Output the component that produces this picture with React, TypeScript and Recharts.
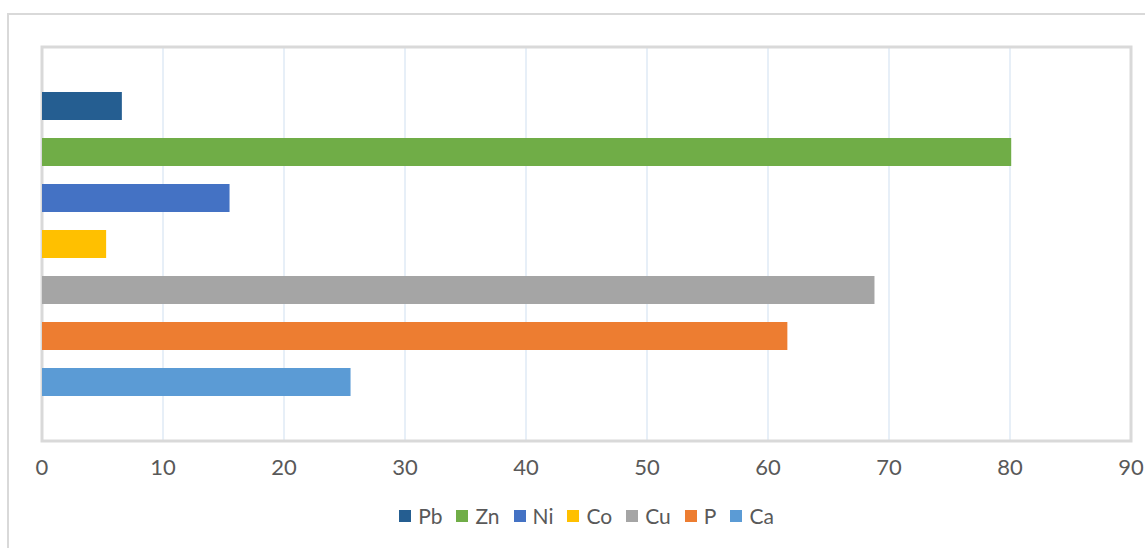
import { Bar, BarChart, CartesianGrid, Legend, ReferenceArea, XAxis, YAxis } from "recharts";

// series in top-to-bottom order (Excel draws the first series at the bottom)
const elements = ["Pb", "Zn", "Ni", "Co", "Cu", "P", "Ca"];
const values = [6.6, 80.1, 15.5, 5.3, 68.8, 61.6, 25.5];
const colors = ["#255E91", "#70AD47", "#4472C4", "#FFC000", "#A5A5A5", "#ED7D31", "#5B9BD5"];
const xTicks = [0, 10, 20, 30, 40, 50, 60, 70, 80, 90];

const row: Record<string, string | number> = { name: "sample" };
elements.forEach((el, i) => {
  row[el] = values[i];
});
const data = [row];

const font = "Lato, 'Open Sans', sans-serif";
const textColor = "#595959";

function LegendBox() {
  return (
    <div
      style={{
        display: "flex",
        justifyContent: "center",
        gap: "14px",
        paddingTop: "10px",
        fontFamily: font,
        fontSize: 21,
        color: textColor
      }}
    >
      {elements.map((el, i) => (
        <div key={el} style={{ display: "flex", alignItems: "center", gap: "7px" }}>
          <span style={{ display: "inline-block", width: 12, height: 12, background: colors[i] }} />
          <span>{el}</span>
        </div>
      ))}
    </div>
  );
}

export default function App() {
  return (
    <div style={{ position: "absolute", left: 0, top: 0, width: 1145, height: 548, overflow: "hidden", background: "#fff" }}>
      <div style={{ position: "absolute", left: 7, top: 13, width: 1160, height: 560, border: "2px solid #d9d9d9" }} />
      <div style={{ position: "absolute", left: 0, top: 0 }}>
        <BarChart
          width={1145}
          height={548}
          data={data}
          layout="vertical"
          margin={{ top: 47, right: 14, bottom: 8, left: 42 }}
          barSize={28}
          barGap={18}
        >
          <CartesianGrid horizontal={false} stroke="#cfdff0" strokeWidth={1} />
          <XAxis
            type="number"
            domain={[0, 90]}
            ticks={xTicks}
            interval={0}
            axisLine={false}
            tickLine={false}
            tickMargin={12}
            height={52}
            tick={{ fill: textColor, fontSize: 22, fontFamily: font }}
          />
          <YAxis type="category" dataKey="name" hide />
          <ReferenceArea x1={0} x2={90} fill="none" stroke="#d9d9d9" strokeWidth={3} ifOverflow="visible" />
          {elements.map((el, i) => (
            <Bar key={el} dataKey={el} fill={colors[i]} isAnimationActive={false} />
          ))}
          <Legend verticalAlign="bottom" height={47} content={() => <LegendBox />} />
        </BarChart>
      </div>
    </div>
  );
}
